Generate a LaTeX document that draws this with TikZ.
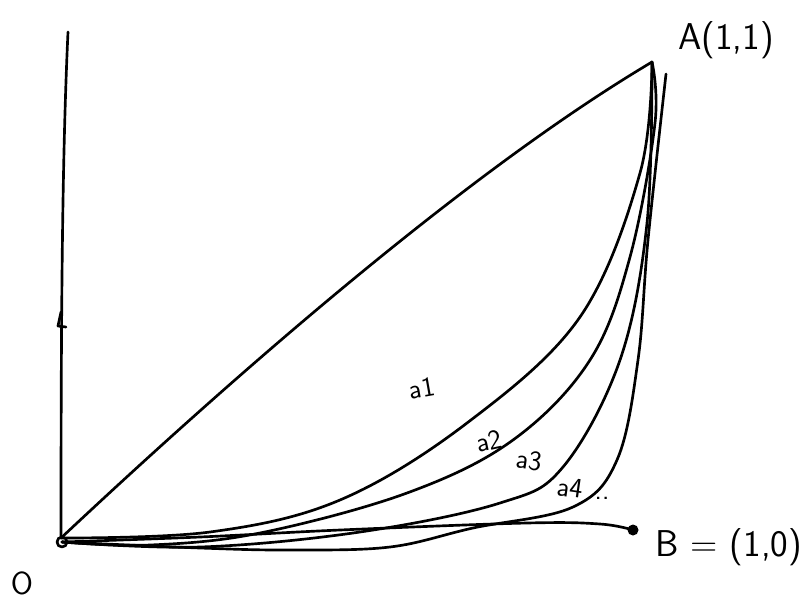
\documentclass[tikz,border=0pt]{standalone}
\begin{document}
\begin{tikzpicture}[x=0.75pt,y=-0.75pt,
  stroke/.style={line width=2pt,line cap=round,line join=round},
  curvea/.style={stroke,smooth,tension=0.6},
  lbl/.style={font=\sffamily\fontsize{28}{30}\selectfont,inner sep=0pt},
  albl/.style={font=\sffamily\fontsize{21}{22}\selectfont,inner sep=0pt}]
\useasboundingbox (0,0) rectangle (806,600);
% key points
\coordinate (O) at (61,538);
\coordinate (Oc) at (62,542);
\coordinate (A) at (652,62);
\coordinate (B) at (633,530);
\coordinate (Ytop) at (68,32);
\coordinate (a4top) at (666,74);
% axes
\draw[stroke] (O) .. controls (61,330) and (62,160) .. (Ytop);
\draw[stroke] (61,312) -- (58,326) -- (66,327);
\draw[curvea] plot coordinates {(Oc) (200,537) (340,530) (527,523) (600,524) (B)};
\fill (B) circle (5.5);
\draw[stroke] (Oc) circle (5);
% chord O-A
\draw[stroke] (O) .. controls (240,370) and (470,170) .. (A);
% curves a1..a4
\draw[curvea] plot coordinates {(O) (210,532) (340,500) (467,423) (580,317) (640,173) (A)};
\draw[curvea] plot coordinates {(Oc) (150,545) (260,533) (407,493) (513,440) (590,360) (630,257) (655,123) (A)};
\draw[curvea] plot coordinates {(Oc) (200,547) (360,532) (500,503) (563,467) (620,360) (647,223) (A)};
\draw[curvea] plot coordinates {(Oc) (200,548) (290,550) (390,547) (473,528) (573,507) (617,460) (638,360) (648,240) (a4top)};
% labels
\node[lbl] (Alab) at (726,40) {A(1,1)};
\node[lbl] (Blab) at (729,547) {B = (1,0)};
\node[lbl,font=\sffamily\fontsize{24}{26}\selectfont] (Olab) at (22,583) {O};
\node[albl,rotate=10] (l1) at (422,388) {a1};
\node[albl,rotate=12] (l2) at (489,441) {a2};
\node[albl,rotate=-8] (l3) at (529,460) {a3};
\node[albl,rotate=-8] (l4) at (570,488) {a4};
\node[albl] (dots) at (602,498) {..};
\end{tikzpicture}
\end{document}
